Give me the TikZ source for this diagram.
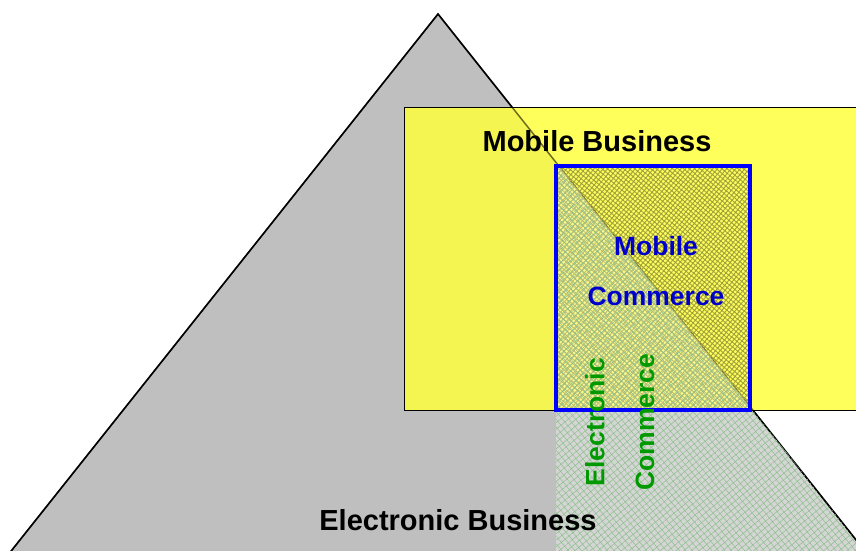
\documentclass[tikz,border=0pt]{standalone}
\usepackage{fontspec}
\setmainfont{Liberation Sans}
\usetikzlibrary{patterns.meta}

\begin{document}
\begin{tikzpicture}[
            x=1pt, y=-1pt,
            heading/.style={font=\fontsize{29}{32}\selectfont\bfseries, inner sep=0pt},
            area label/.style={font=\fontsize{26.5}{30}\selectfont\bfseries, inner sep=0pt},
            ec hatch/.style={pattern={Hatch[angle=40, distance=5pt, line width=0.5pt]}, pattern color=green!45!black!45},
            mc hatch/.style={pattern={Hatch[angle=-40, distance=3.5pt, line width=0.9pt]}, pattern color={rgb,255:red,160;green,160;blue,60}},
        ]
            \useasboundingbox (0,0) rectangle (856,550);
            \coordinate (apex) at (438,14);
            \coordinate (base left) at (4,560);
            \coordinate (base right) at (872,560);
            \coordinate (mb nw) at (404,107);
            \coordinate (mb se) at (870,410);
            \coordinate (mc nw) at (556,166);
            \coordinate (mc se) at (750,410);
            % electronic business
            \fill[black!25] (apex) -- (base left) -- (base right) -- cycle;
            \begin{scope}
                \clip (apex) -- (base left) -- (base right) -- cycle;
                \fill[white, opacity=0.35] (mc nw |- 0,100) rectangle (900,560);
            \end{scope}
            \draw[line width=1.6pt] (base left) -- (apex) -- (base right);
            % mobile business
            \filldraw[fill={rgb,255:red,255;green,255;blue,64}, fill opacity=0.85, draw=black, line width=0.6pt] (mb nw) rectangle (mb se);
            \draw[line width=1.4pt, draw opacity=0.5] (base left) -- (apex) -- (base right);
            % mobile commerce
            \fill[mc hatch] (mc nw) rectangle (mc se);
            % electronic commerce
            \begin{scope}
                \clip (apex) -- (base left) -- (base right) -- cycle;
                \fill[white, opacity=0.3] (mc nw) rectangle (mc se);
                \fill[ec hatch] (mc nw |- 0,100) rectangle (900,560);
            \end{scope}
            \draw[blue, line width=3.2pt] (mc nw) rectangle (mc se);
            % labels
            \node[heading] (mb label) at (597,141) {Mobile Business};
            \node[heading] (eb label) at (458,520) {Electronic Business};
            \node[area label, blue!80!black] (mc label a) at (656,246) {Mobile};
            \node[area label, blue!80!black] (mc label b) at (656,296) {Commerce};
            \node[area label, green!60!black, rotate=90] (ec label a) at (595,422) {Electronic};
            \node[area label, green!60!black, rotate=90] (ec label b) at (645,422) {Commerce};
        \end{tikzpicture}
\end{document}
